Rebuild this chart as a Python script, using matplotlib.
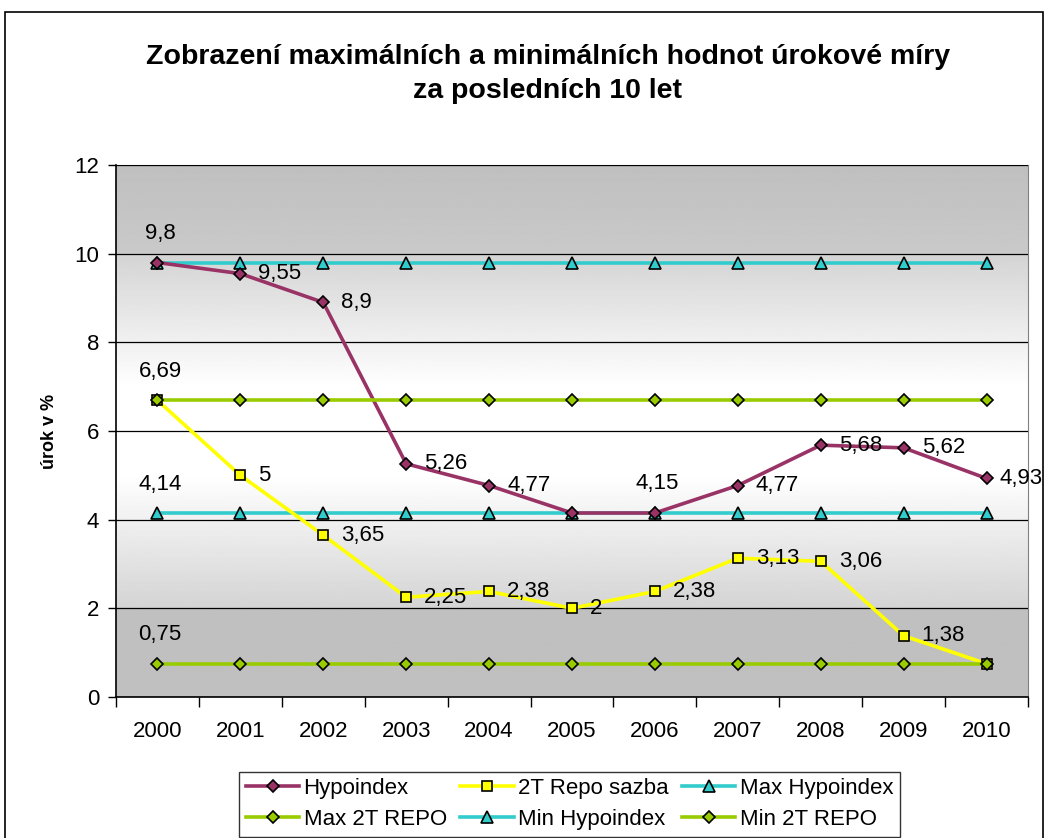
import matplotlib.pyplot as plt
import matplotlib.patches as patches
import numpy as np

plt.rcParams['font.family'] = ['Liberation Sans', 'DejaVu Sans']

years = ['2000', '2001', '2002', '2003', '2004', '2005', '2006', '2007', '2008', '2009', '2010']
hypoindex = [9.8, 9.55, 8.9, 5.26, 4.77, 4.15, 4.15, 4.77, 5.68, 5.62, 4.93]
repo = [6.69, 5, 3.65, 2.25, 2.38, 2, 2.38, 3.13, 3.06, 1.38, 0.75]
max_hypo = [9.8] * 11
min_hypo = [4.14] * 11
max_repo = [6.69] * 11
min_repo = [0.75] * 11

x = np.arange(len(years))

fig = plt.figure(figsize=(10.45, 8.38), dpi=100)
ax = fig.add_axes([0.111, 0.1683, 0.8727, 0.6348])

# outer chart border
fig.patches.append(patches.Rectangle((0.005, -0.01), 0.993, 0.9957, transform=fig.transFigure,
                                     fill=False, edgecolor='black', linewidth=1.2))

# gradient background of the plot area
yy = np.linspace(0, 12, 600)
shade = np.interp(yy, [0, 1.99, 2.0, 5.0, 7.0, 10.0, 10.01, 12],
                  [0.75, 0.75, 0.83, 1.0, 1.0, 0.83, 0.79, 0.75])
img = np.repeat(shade[:, None], 2, axis=1)
ax.imshow(img, extent=(-0.5, 10.5, 0, 12), origin='lower', aspect='auto',
          cmap='gray', vmin=0, vmax=1, zorder=0)

lw = 2.6
h1, = ax.plot(x, hypoindex, color='#993366', lw=lw, marker='D', ms=6.5,
              mfc='#993366', mec='black', mew=1.2, zorder=5)
h2, = ax.plot(x, repo, color='#FFFF00', lw=lw, marker='s', ms=7.5,
              mfc='#FFFF00', mec='black', mew=1.2, zorder=4)
h3, = ax.plot(x, max_hypo, color='#33CCCC', lw=lw, marker='^', ms=8.5,
              mfc='#33CCCC', mec='black', mew=1.2, zorder=3)
h4, = ax.plot(x, max_repo, color='#99CC00', lw=lw, marker='D', ms=6.5,
              mfc='#99CC00', mec='black', mew=1.2, zorder=5)
h5, = ax.plot(x, min_hypo, color='#33CCCC', lw=lw, marker='^', ms=8.5,
              mfc='#33CCCC', mec='black', mew=1.2, zorder=3)
h6, = ax.plot(x, min_repo, color='#99CC00', lw=lw, marker='D', ms=6.5,
              mfc='#99CC00', mec='black', mew=1.2, zorder=5)


def fmt(v):
    return f'{v:g}'.replace('.', ',')


fs = 16
# labels to the right of points
for i in range(1, 11):
    if i in (5, 6):
        continue
    dx = 9 if i == 10 else 13
    ax.annotate(fmt(hypoindex[i]), (x[i], hypoindex[i]), xytext=(dx, 0),
                textcoords='offset points', ha='left', va='center', fontsize=fs, zorder=6,
                annotation_clip=False)
for i in range(1, 10):
    ax.annotate(fmt(repo[i]), (x[i], repo[i]), xytext=(13, 0),
                textcoords='offset points', ha='left', va='center', fontsize=fs, zorder=6)
# labels above points
ax.annotate(fmt(hypoindex[6]), (x[6], hypoindex[6]), xytext=(2, 21),
            textcoords='offset points', ha='center', va='center', fontsize=fs, zorder=6)
for s in (max_hypo, max_repo, min_hypo, min_repo):
    ax.annotate(fmt(s[0]), (x[0], s[0]), xytext=(2, 21),
                textcoords='offset points', ha='center', va='center', fontsize=fs, zorder=6)

ax.set_xlim(-0.5, 10.5)
ax.set_ylim(0, 12)
ax.set_yticks(np.arange(0, 13, 2))
ax.set_xticks(x)
ax.set_xticklabels(years)
ax.set_xticks(np.arange(-0.5, 11, 1), minor=True)
ax.tick_params(axis='x', which='major', length=0, labelsize=fs, pad=17)
ax.tick_params(axis='x', which='minor', length=7, width=1, color='black')
ax.tick_params(axis='y', labelsize=fs, length=6, width=1, pad=6)
ax.grid(axis='y', color='black', lw=0.9, zorder=1)
ax.set_axisbelow(False)
for side in ('top', 'right'):
    ax.spines[side].set_color('#808080')
for side in ('left', 'bottom'):
    ax.spines[side].set_color('black')
    ax.spines[side].set_linewidth(1.2)

ax.set_ylabel('úrok v %', fontsize=13, fontweight='bold', labelpad=12)

fig.text(0.524, 0.9115, 'Zobrazení maximálních a minimálních hodnot úrokové míry\nza posledních 10 let',
         ha='center', va='center', fontsize=20.5, fontweight='bold', linespacing=1.42)

handles = [h1, h4, h2, h5, h3, h6]
labels = ['Hypoindex', 'Max 2T REPO', '2T Repo sazba', 'Min Hypoindex', 'Max Hypoindex', 'Min 2T REPO']
leg = fig.legend(handles, labels, loc='upper center', bbox_to_anchor=(0.545, 0.0925), ncol=3,
                 fontsize=fs, frameon=True, fancybox=False, edgecolor='black',
                 handlelength=2.4, handletextpad=0.2, columnspacing=0.6, labelspacing=0.45,
                 borderpad=0.3)
leg.get_frame().set_linewidth(1.0)

plt.savefig('out.png', dpi=100)
